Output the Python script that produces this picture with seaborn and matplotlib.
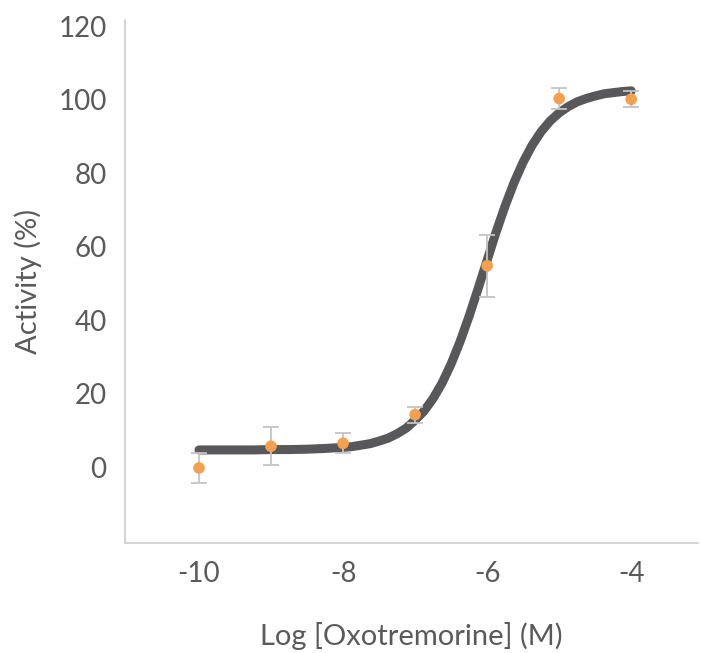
import matplotlib
matplotlib.use("Agg")
import matplotlib.pyplot as plt
import seaborn as sns
import pandas as pd

# measured points (mean +/- error)
log_conc = [-10, -9, -8, -7, -6, -5, -4]
activity = [-0.2, 5.7, 6.5, 14.3, 54.8, 100.3, 100.1]
err = [4.0, 5.2, 2.7, 2.2, 8.4, 2.8, 2.2]

# fitted curve, values
curve_x = [-10, -9.75, -9.5, -9.25, -9, -8.75, -8.5, -8.25,
           -8, -7.875, -7.75, -7.625, -7.5, -7.375, -7.25, -7.125,
           -7, -6.875, -6.75, -6.625, -6.5, -6.375, -6.25, -6.125,
           -6, -5.875, -5.75, -5.625, -5.5, -5.375, -5.25, -5.125,
           -5, -4.875, -4.75, -4.625, -4.5, -4.375, -4.25, -4.125, -4]
curve_y = [4.7, 4.7, 4.7, 4.7, 4.8, 4.8, 4.9, 5.1,
           5.4, 5.6, 6.0, 6.4, 7.1, 7.9, 9.1, 10.6,
           12.8, 15.3, 18.7, 22.9, 28.1, 34.2, 41.1, 48.6,
           56.3, 64.0, 71.1, 77.5, 83.0, 87.6, 91.3, 94.2,
           96.4, 98.1, 99.4, 100.3, 101.0, 101.6, 101.9, 102.2, 102.4]

pts = pd.DataFrame({"x": log_conc, "y": activity})
fit = pd.DataFrame({"x": curve_x, "y": curve_y})

sns.set_style("white")
txt = "#5a5a5c"
plt.rcParams["font.family"] = ["Lato", "DejaVu Sans"]
plt.rcParams["axes.unicode_minus"] = False

fig = plt.figure(figsize=(7.01, 6.53), dpi=100)
ax = fig.add_axes([0.178, 0.168, 0.818, 0.801])

sns.lineplot(data=fit, x="x", y="y", ax=ax, color="#58585a", linewidth=6.5,
             solid_capstyle="round", solid_joinstyle="round", zorder=2)
ax.errorbar(log_conc, activity, yerr=err, fmt="none", ecolor="#c4c4c4",
            elinewidth=1.3, capsize=6, capthick=1.3, zorder=3)
sns.scatterplot(data=pts, x="x", y="y", ax=ax, color="#f4a04e", s=70,
                edgecolor="none", zorder=4)

ax.set_xlim(-11.03, -3.07)
ax.set_ylim(-20.7, 121.6)
ax.set_xticks([-10, -8, -6, -4])
ax.set_yticks([0, 20, 40, 60, 80, 100, 120])

sns.despine(ax=ax)
for s in ["left", "bottom"]:
    ax.spines[s].set_color("#cccccc")
    ax.spines[s].set_linewidth(1.2)
ax.tick_params(axis="both", direction="out", length=5, width=1, color="#cccccc",
               labelsize=20, labelcolor=txt, pad=8)

ax.set_xlabel("Log [Oxotremorine] (M)", fontsize=21, color=txt, labelpad=25)
ax.set_ylabel("Activity (%)", fontsize=21, color=txt, labelpad=12)

fig.savefig("out.png", dpi=100)
